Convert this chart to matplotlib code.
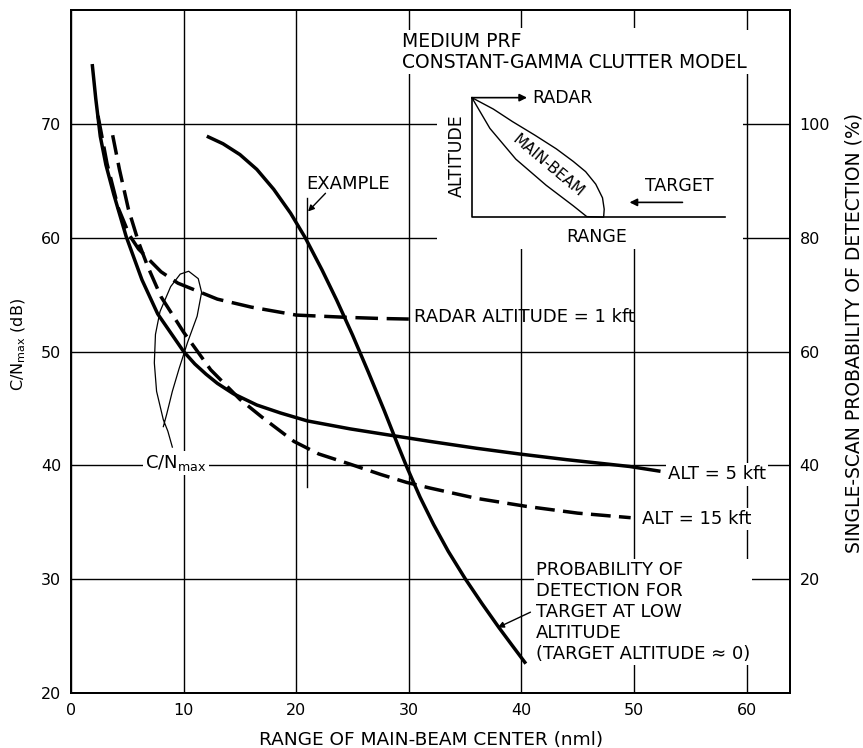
import numpy as np
import matplotlib
matplotlib.use('Agg')
import matplotlib.pyplot as plt
from matplotlib.patches import Rectangle

plt.rcParams['font.family'] = ['DejaVu Sans']
plt.rcParams['mathtext.default'] = 'regular'

# C/N_max vs range of main-beam center (nmi, dB)
alt1_x = [2.4, 3.2, 4.2, 5.2, 6.0, 7.0, 8.0, 9.5, 11.5, 13.0, 16.0, 20.0, 24.5, 27.5, 30.0]
alt1_y = [70.7, 66.5, 62.6, 60.2, 59.0, 58.0, 57.0, 56.0, 55.2, 54.6, 53.9, 53.2, 53.0, 52.9, 52.85]

alt5_x = [1.9, 2.2, 2.6, 3.1, 3.8, 4.9, 6.3, 7.7, 10.0, 11.0, 12.0, 13.0, 14.4, 16.5, 18.6, 21.0,
          24.8, 28.0, 31.9, 36.0, 39.8, 44.0, 49.6, 52.2]
alt5_y = [75.1, 72.2, 68.9, 66.4, 63.8, 60.1, 56.3, 53.3, 50.0, 48.9, 48.0, 47.2, 46.3, 45.3, 44.6, 43.9,
          43.2, 42.7, 42.1, 41.5, 41.0, 40.5, 39.9, 39.5]

alt15_x = [3.7, 4.3, 5.1, 6.0, 6.8, 8.0, 10.0, 12.4, 15.0, 17.0, 19.8, 22.0, 24.8, 27.5, 29.8,
           31.9, 36.0, 40.4, 45.0, 49.7]
alt15_y = [69.0, 66.0, 62.5, 59.6, 57.5, 54.8, 51.7, 48.4, 45.8, 44.2, 42.1, 41.0, 40.1, 39.2, 38.5,
           38.0, 37.1, 36.4, 35.8, 35.4]

# single-scan probability of detection (%)
pd_x = [12.2, 13.5, 15.0, 16.5, 18.0, 19.5, 20.8, 22.3, 23.6, 25.0, 26.4, 27.8, 29.0, 29.8,
        31.0, 32.2, 33.5, 35.0, 36.5, 38.0, 39.2, 40.3]
pd_y = [97.7, 96.5, 94.6, 92.0, 88.5, 84.3, 80.0, 74.3, 69.0, 62.9, 56.4, 49.7, 43.7, 39.8,
        34.4, 29.6, 24.9, 20.1, 15.7, 11.5, 8.3, 5.4]

# leader loop for the C/N_max label
loop_x = [9.0, 8.6, 8.2, 7.6, 7.4, 7.5, 7.9, 8.85, 9.7, 10.45, 11.3, 11.6, 11.2, 10.35, 9.6, 9.0, 8.5, 8.2]
loop_y = [41.6, 43.0, 44.0, 46.5, 49.0, 51.5, 53.5, 55.7, 56.8, 57.05, 56.4, 55.2, 53.1, 50.8, 48.5, 46.5, 44.5, 43.4]

# inset sketch (drawn in data units of the main axes)
lobe_x = [35.6, 37.5, 39.2, 41.2, 43.1, 44.6, 45.7, 46.6, 47.2, 47.35, 47.3, 45.8, 44.6, 42.2, 39.5, 37.2, 35.6]
lobe_y = [72.3, 71.3, 70.2, 69.0, 67.8, 66.7, 65.8, 64.7, 63.5, 62.5, 61.8, 61.85, 62.8, 64.6, 66.9, 69.6, 72.3]
sketch_x = [35.6, 35.6, 58.1]
sketch_y = [72.3, 61.8, 61.8]

EXAMPLE_X = 21.0
EXAMPLE_SPAN = (38.1, 63.5)

xticks = [0, 10, 20, 30, 40, 50, 60]
yticks = [20, 30, 40, 50, 60, 70]
pd_ticks = [20, 40, 60, 80, 100]

LW = 2.5
FS = 13
box = dict(facecolor='white', edgecolor='none', pad=1.5)

fig = plt.figure(figsize=(8.63, 7.48), dpi=100)
ax = fig.add_axes([71 / 863, 55 / 748, 719 / 863, 683 / 748])
ax.set_xlim(0, 63.85)
ax.set_ylim(20, 80)
ax.set_xticks(xticks)
ax.set_yticks(yticks)
ax.set_axisbelow(True)
ax.grid(True, color='black', lw=1.0)
ax.tick_params(length=0, labelsize=11.5, pad=7)
for s in ax.spines.values():
    s.set_linewidth(1.3)

ax.plot(alt5_x, alt5_y, color='black', lw=LW, zorder=4)
ax.plot(alt1_x, alt1_y, color='black', lw=LW, ls=(0, (6.5, 2.5)), zorder=4)
ax.plot(alt15_x, alt15_y, color='black', lw=LW, ls=(0, (5.7, 2.4)), zorder=4)
ax.plot(loop_x, loop_y, color='black', lw=0.9, zorder=4)
ax.plot([EXAMPLE_X, EXAMPLE_X], EXAMPLE_SPAN, color='black', lw=1.0, zorder=4)

# inset
ax.add_patch(Rectangle((32.5, 59.0), 27.2, 19.4, facecolor='white', edgecolor='none', zorder=1))
ax.plot(sketch_x, sketch_y, color='black', lw=1.2, zorder=2)
ax.plot(lobe_x, lobe_y, color='black', lw=1.0, zorder=2)
ax.annotate('', xy=(40.5, 72.3), xytext=(35.6, 72.3),
            arrowprops=dict(arrowstyle='-|>', color='black', lw=1.2, mutation_scale=11,
                            shrinkA=0, shrinkB=0), zorder=2)
ax.annotate('', xy=(49.6, 63.1), xytext=(54.3, 63.1),
            arrowprops=dict(arrowstyle='-|>', color='black', lw=1.2, mutation_scale=11,
                            shrinkA=0, shrinkB=0), zorder=2)
ax.text(41.0, 72.3, 'RADAR', fontsize=12.5, va='center', ha='left')
ax.text(51.0, 64.5, 'TARGET', fontsize=12.5, va='center', ha='left')
ax.text(46.7, 60.1, 'RANGE', fontsize=12.5, va='center', ha='center')
ax.text(34.3, 67.2, 'ALTITUDE', fontsize=12.5, va='center', ha='center', rotation=90)
ax.text(42.4, 66.3, 'MAIN-BEAM', fontsize=11, va='center', ha='center', rotation=-40,
        rotation_mode='anchor')
ax.text(29.4, 78.1, 'MEDIUM PRF\nCONSTANT-GAMMA CLUTTER MODEL', fontsize=13.5, va='top',
        ha='left', linespacing=1.15, bbox=box, zorder=3)

# labels on the curves
ax.text(30.5, 53.0, 'RADAR ALTITUDE = 1 kft', fontsize=FS, va='center', ha='left')
ax.text(53.0, 39.2, 'ALT = 5 kft', fontsize=FS, va='center', ha='left', bbox=box, zorder=3)
ax.text(50.7, 35.3, 'ALT = 15 kft', fontsize=FS, va='center', ha='left', bbox=box, zorder=3)
ax.text(6.6, 40.2, 'C/N$_{max}$', fontsize=FS, va='center', ha='left', bbox=box, zorder=3)
ax.text(20.9, 64.7, 'EXAMPLE', fontsize=FS, va='center', ha='left')
ax.annotate('', xy=(21.05, 62.3), xytext=(22.6, 63.9),
            arrowprops=dict(arrowstyle='-|>', color='black', lw=1.0, mutation_scale=9,
                            shrinkA=0, shrinkB=0))
ax.text(41.3, 31.6, 'PROBABILITY OF\nDETECTION FOR\nTARGET AT LOW\nALTITUDE\n(TARGET ALTITUDE \u2248 0)',
        fontsize=FS, va='top', ha='left', linespacing=1.22, bbox=box, zorder=3)
ax.annotate('', xy=(37.9, 25.75), xytext=(40.8, 27.1),
            arrowprops=dict(arrowstyle='-|>', color='black', lw=1.0, mutation_scale=9,
                            shrinkA=0, shrinkB=0), zorder=4)

# right-hand probability axis
ax2 = ax.twinx()
ax2.set_ylim(0, 120)
ax2.set_yticks(pd_ticks)
ax2.tick_params(length=0, labelsize=11.5, pad=7)
for s in ax2.spines.values():
    s.set_linewidth(1.3)
ax2.plot(pd_x, pd_y, color='black', lw=LW, zorder=4)

fig.text(0.022, 0.539, 'C/N$_{max}$ (dB)', fontsize=11.5, rotation=90, ha='center', va='center')
fig.text(0.990, 0.555, 'SINGLE-SCAN PROBABILITY OF DETECTION (%)', fontsize=13.5,
         rotation=90, ha='center', va='center')
fig.text(0.499, 0.011, 'RANGE OF MAIN-BEAM CENTER (nml)', fontsize=13.3, ha='center', va='center')

fig.savefig('out.png', dpi=100)
